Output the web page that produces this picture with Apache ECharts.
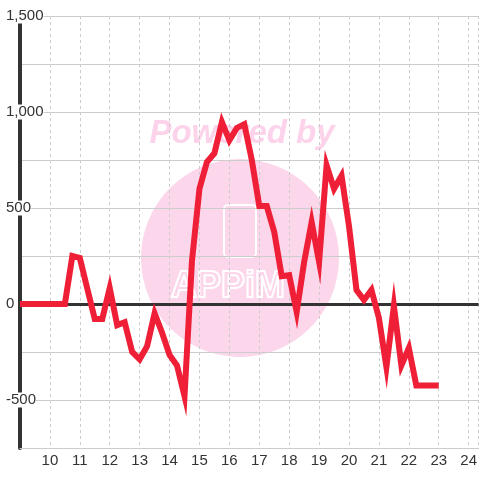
<!DOCTYPE html>
<html>
<head>
<meta charset="utf-8">
<style>html,body{margin:0;padding:0;background:#fff}#c{width:480px;height:480px}</style>
<script src="https://cdn.jsdelivr.net/npm/echarts@6/dist/echarts.min.js"></script>
</head>
<body>
<div id="c"></div>
<script>
const hours = [9, 9.25, 9.5, 9.75, 10, 10.25, 10.5, 10.75, 11, 11.25, 11.5, 11.75, 12, 12.25, 12.5, 12.75, 13, 13.25, 13.5, 13.75, 14, 14.25, 14.5, 14.75, 15, 15.25, 15.5, 15.75, 16, 16.25, 16.5, 16.75, 17, 17.25, 17.5, 17.75, 18, 18.25, 18.5, 18.75, 19, 19.25, 19.5, 19.75, 20, 20.25, 20.5, 20.75, 21, 21.25, 21.5, 21.75, 22, 22.25, 22.5, 22.75, 23];
const values = [0, 0, 0, 0, 0, 0, 0, 250, 240, 80, -78, -78, 83, -110, -95, -250, -288, -220, -48, -150, -265, -320, -480, 225, 600, 740, 785, 948, 852, 917, 937, 750, 510, 510, 375, 145, 150, -42, 219, 427, 219, 722, 600, 668, 406, 73, 21, 73, -73, -328, -10, -320, -229, -425, -425, -425, -425];
const xTicks = [10, 11, 12, 13, 14, 15, 16, 17, 18, 19, 20, 21, 22, 23, 24];
const yTicks = [-500, 0, 500, 1000, 1500];

const chart = echarts.init(document.getElementById('c'), null, {renderer: 'canvas'});
const font = 'Liberation Sans, Arial, sans-serif';
chart.setOption({
  backgroundColor: '#ffffff',
  animation: false,
  graphic: [
    {type: 'circle', z: -10, shape: {cx: 240, cy: 258, r: 99}, style: {fill: '#fcd6ea'}},
    {type: 'text', z: -10, x: 242, y: 134, style: {text: 'Powered by', fill: '#fcd3ea', font: 'italic bold 33px Liberation Sans, Arial, sans-serif', align: 'center', verticalAlign: 'middle'}},
    {type: 'rect', z: -9, shape: {x: 224, y: 205, width: 32, height: 52, r: 4}, style: {fill: 'none', stroke: '#ffffff', lineWidth: 2}},
    {type: 'text', z: -9, x: 228, y: 287, style: {text: 'APPiM', fill: 'none', stroke: '#ffffff', lineWidth: 2, font: 'bold 36px Liberation Sans, Arial, sans-serif', align: 'center', verticalAlign: 'middle'}}
  ],
  grid: {left: 20, right: 0, top: 16, bottom: 32, containLabel: false},
  xAxis: {
    type: 'value', min: 9, max: 24.3333, interval: 1,
    axisLine: {show: true, onZero: false, lineStyle: {color: '#cccccc', width: 1}},
    axisTick: {show: false},
    splitLine: {show: true, lineStyle: {color: '#cccccc', type: [3, 3], width: 1}},
    axisLabel: {
      margin: 5, color: '#333', fontSize: 15, fontFamily: font,
      showMaxLabel: false,
      formatter: v => xTicks.indexOf(v) >= 0 ? String(v) : ''
    }
  },
  yAxis: {
    type: 'value', min: -750, max: 1500, interval: 250,
    axisLine: {show: true, lineStyle: {color: '#333333', width: 4}},
    axisTick: {show: false},
    splitLine: {show: true, lineStyle: {color: '#cccccc', width: 1}},
    axisLabel: {
      margin: 14, align: 'left', color: '#333', fontSize: 15, fontFamily: font,
      backgroundColor: '#ffffff',
      formatter: v => yTicks.indexOf(v) >= 0 ? v.toLocaleString('en-US') : ''
    }
  },
  series: [{
    type: 'line',
    data: hours.map((h, i) => [h, values[i]]),
    showSymbol: false,
    symbol: 'none',
    lineStyle: {color: '#ee1f36', width: 6, join: 'miter', cap: 'butt'},
    itemStyle: {color: '#ee1f36'},
    z: 3,
    markLine: {
      silent: true, symbol: 'none', label: {show: false},
      lineStyle: {color: '#333333', width: 3, type: 'solid'},
      z: 2,
      data: [{yAxis: 0}]
    }
  }]
});
</script>
</body>
</html>
